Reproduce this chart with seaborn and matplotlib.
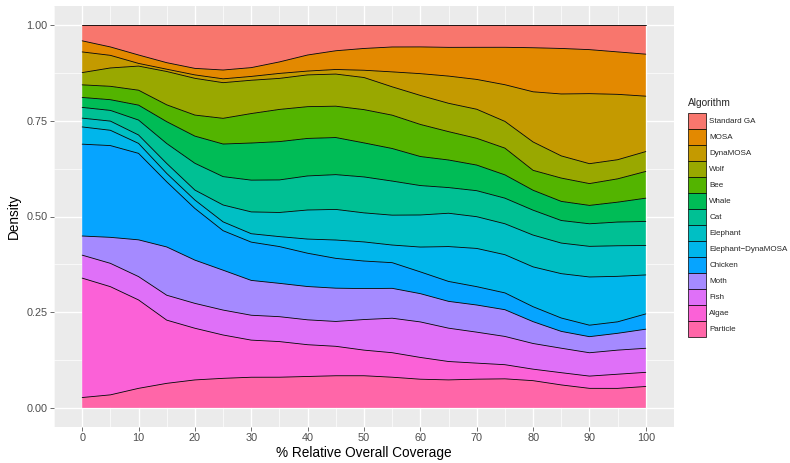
import numpy as np
import pandas as pd
import matplotlib
matplotlib.use("Agg")
import matplotlib.pyplot as plt
from matplotlib.patches import Patch
from matplotlib.ticker import MultipleLocator
import seaborn as sns

# ---- data: share of each algorithm at each coverage value ----
coverage = [0, 5, 10, 15, 20, 25, 30, 35, 40, 45, 50, 55, 60, 65, 70, 75, 80, 85, 90, 95, 100]

standard_ga = [0.041, 0.057, 0.078, 0.098, 0.113, 0.117, 0.111, 0.096, 0.078, 0.067, 0.061,
               0.057, 0.057, 0.058, 0.058, 0.058, 0.059, 0.061, 0.064, 0.070, 0.076]
mosa = [0.029, 0.022, 0.022, 0.017, 0.017, 0.023, 0.023, 0.030, 0.042, 0.049, 0.057,
        0.065, 0.070, 0.075, 0.084, 0.098, 0.115, 0.119, 0.115, 0.111, 0.110]
dynamosa = [0.054, 0.033, 0.007, 0.006, 0.009, 0.010, 0.010, 0.013, 0.010, 0.012, 0.019,
            0.039, 0.057, 0.071, 0.078, 0.096, 0.131, 0.162, 0.183, 0.171, 0.145]
wolf = [0.032, 0.048, 0.063, 0.087, 0.096, 0.093, 0.087, 0.081, 0.083, 0.084, 0.084,
        0.074, 0.076, 0.074, 0.076, 0.070, 0.074, 0.058, 0.052, 0.050, 0.052]
bee = [0.033, 0.035, 0.039, 0.044, 0.055, 0.067, 0.077, 0.084, 0.083, 0.082, 0.087,
       0.087, 0.084, 0.074, 0.070, 0.070, 0.052, 0.061, 0.057, 0.061, 0.070]
whale = [0.026, 0.028, 0.039, 0.057, 0.071, 0.085, 0.097, 0.100, 0.098, 0.097, 0.089,
         0.085, 0.076, 0.072, 0.067, 0.061, 0.052, 0.050, 0.048, 0.052, 0.061]
cat = [0.028, 0.028, 0.039, 0.052, 0.070, 0.074, 0.083, 0.085, 0.089, 0.091, 0.094,
       0.089, 0.077, 0.067, 0.068, 0.067, 0.065, 0.059, 0.059, 0.062, 0.063]
elephant = [0.023, 0.024, 0.022, 0.026, 0.026, 0.044, 0.057, 0.063, 0.076, 0.080, 0.076,
            0.078, 0.084, 0.087, 0.083, 0.081, 0.083, 0.080, 0.080, 0.080, 0.077]
elephant_dynamosa = [0.045, 0.040, 0.026, 0.022, 0.022, 0.023, 0.022, 0.026, 0.037, 0.048, 0.050,
                     0.046, 0.065, 0.091, 0.100, 0.100, 0.104, 0.116, 0.126, 0.119, 0.102]
chicken = [0.240, 0.240, 0.226, 0.170, 0.135, 0.103, 0.100, 0.096, 0.087, 0.078, 0.072,
           0.067, 0.057, 0.052, 0.048, 0.044, 0.039, 0.035, 0.030, 0.030, 0.040]
moth = [0.050, 0.068, 0.096, 0.126, 0.113, 0.104, 0.091, 0.087, 0.087, 0.087, 0.081,
        0.078, 0.074, 0.070, 0.071, 0.070, 0.057, 0.044, 0.042, 0.044, 0.050]
fish = [0.060, 0.061, 0.061, 0.065, 0.065, 0.065, 0.065, 0.065, 0.065, 0.065, 0.080,
        0.090, 0.093, 0.087, 0.081, 0.074, 0.067, 0.064, 0.061, 0.063, 0.063]
algae = [0.312, 0.283, 0.231, 0.165, 0.135, 0.113, 0.097, 0.093, 0.083, 0.077, 0.067,
         0.064, 0.057, 0.048, 0.042, 0.037, 0.030, 0.032, 0.032, 0.037, 0.037]
particle = [0.027, 0.034, 0.051, 0.064, 0.073, 0.077, 0.080, 0.080, 0.082, 0.084, 0.084,
            0.080, 0.075, 0.073, 0.075, 0.076, 0.071, 0.060, 0.051, 0.051, 0.056]

algorithms = ["Standard GA", "MOSA", "DynaMOSA", "Wolf", "Bee", "Whale", "Cat",
              "Elephant", "Elephant\u2212DynaMOSA", "Chicken", "Moth", "Fish", "Algae", "Particle"]
series = [standard_ga, mosa, dynamosa, wolf, bee, whale, cat, elephant,
          elephant_dynamosa, chicken, moth, fish, algae, particle]
colors = ["#F8766D", "#E38900", "#C49A00", "#99A800", "#53B400", "#00BC56", "#00C094",
          "#00BFC4", "#00B6EB", "#06A4FF", "#A58AFF", "#DF70F8", "#FB61D7", "#FF66A8"]

# ---- styling ----
sns.set_theme(style="darkgrid", rc={
    "axes.facecolor": "#EBEBEB",
    "figure.facecolor": "white",
    "grid.color": "white",
})
plt.rcParams["font.family"] = ["Liberation Sans", "DejaVu Sans"]

fig = plt.figure(figsize=(7.9, 4.63), dpi=100)
ax = fig.add_axes([54 / 790, 36 / 463, 620 / 790, 421 / 463])

df = pd.DataFrame({name: vals for name, vals in zip(algorithms, series)}, index=coverage)
shares = df.div(df.sum(axis=1), axis=0)  # position = "fill"

x = np.array(coverage, dtype=float)
cum = np.zeros(len(x))
for name, color in zip(algorithms[::-1], colors[::-1]):
    lower = cum.copy()
    upper = cum + shares[name].to_numpy()
    ax.fill_between(x, lower, upper, facecolor=color, edgecolor="none", linewidth=0)
    cum = upper
cum = np.zeros(len(x))
for name in algorithms[::-1]:
    upper = cum + shares[name].to_numpy()
    sns.lineplot(x=x, y=upper, color="black", linewidth=0.6, ax=ax, legend=False)
    cum = upper

ax.set_xlim(-5, 105)
ax.set_ylim(-0.05, 1.05)
ax.xaxis.set_major_locator(MultipleLocator(10))
ax.xaxis.set_minor_locator(MultipleLocator(5))
ax.yaxis.set_minor_locator(MultipleLocator(0.125))
ax.set_yticks([0, 0.25, 0.5, 0.75, 1.0])
ax.set_yticklabels(["0.00", "0.25", "0.50", "0.75", "1.00"])
ax.grid(which="major", color="white", linewidth=1.0)
ax.grid(which="minor", color="white", linewidth=0.5)
ax.set_axisbelow(True)
for s in ax.spines.values():
    s.set_visible(False)
ax.tick_params(which="major", length=3.0, width=0.5, color="#333333",
               labelcolor="#4D4D4D", labelsize=7.8, pad=1.5)
ax.tick_params(which="minor", length=0)
ax.tick_params(axis="x", which="major", bottom=True)
ax.tick_params(axis="y", which="major", left=True)
ax.set_xlabel("% Relative Overall Coverage", fontsize=9.8, color="black", labelpad=2)
ax.set_ylabel("Density", fontsize=9.8, color="black", labelpad=4)

handles = [Patch(facecolor=c, edgecolor="black", linewidth=0.5, label=n)
           for n, c in zip(algorithms, colors)]
leg = fig.legend(handles=handles, title="Algorithm", loc="upper left",
                 bbox_to_anchor=(688 / 790, 1 - 98 / 463), frameon=False,
                 fontsize=5.8, title_fontsize=7.3, handlelength=2.2, handleheight=2.68,
                 labelspacing=0, handletextpad=0.45, borderpad=0, borderaxespad=0)
leg._legend_box.align = "left"
leg._legend_box.sep = 3.5

fig.savefig("out.png", dpi=100)
